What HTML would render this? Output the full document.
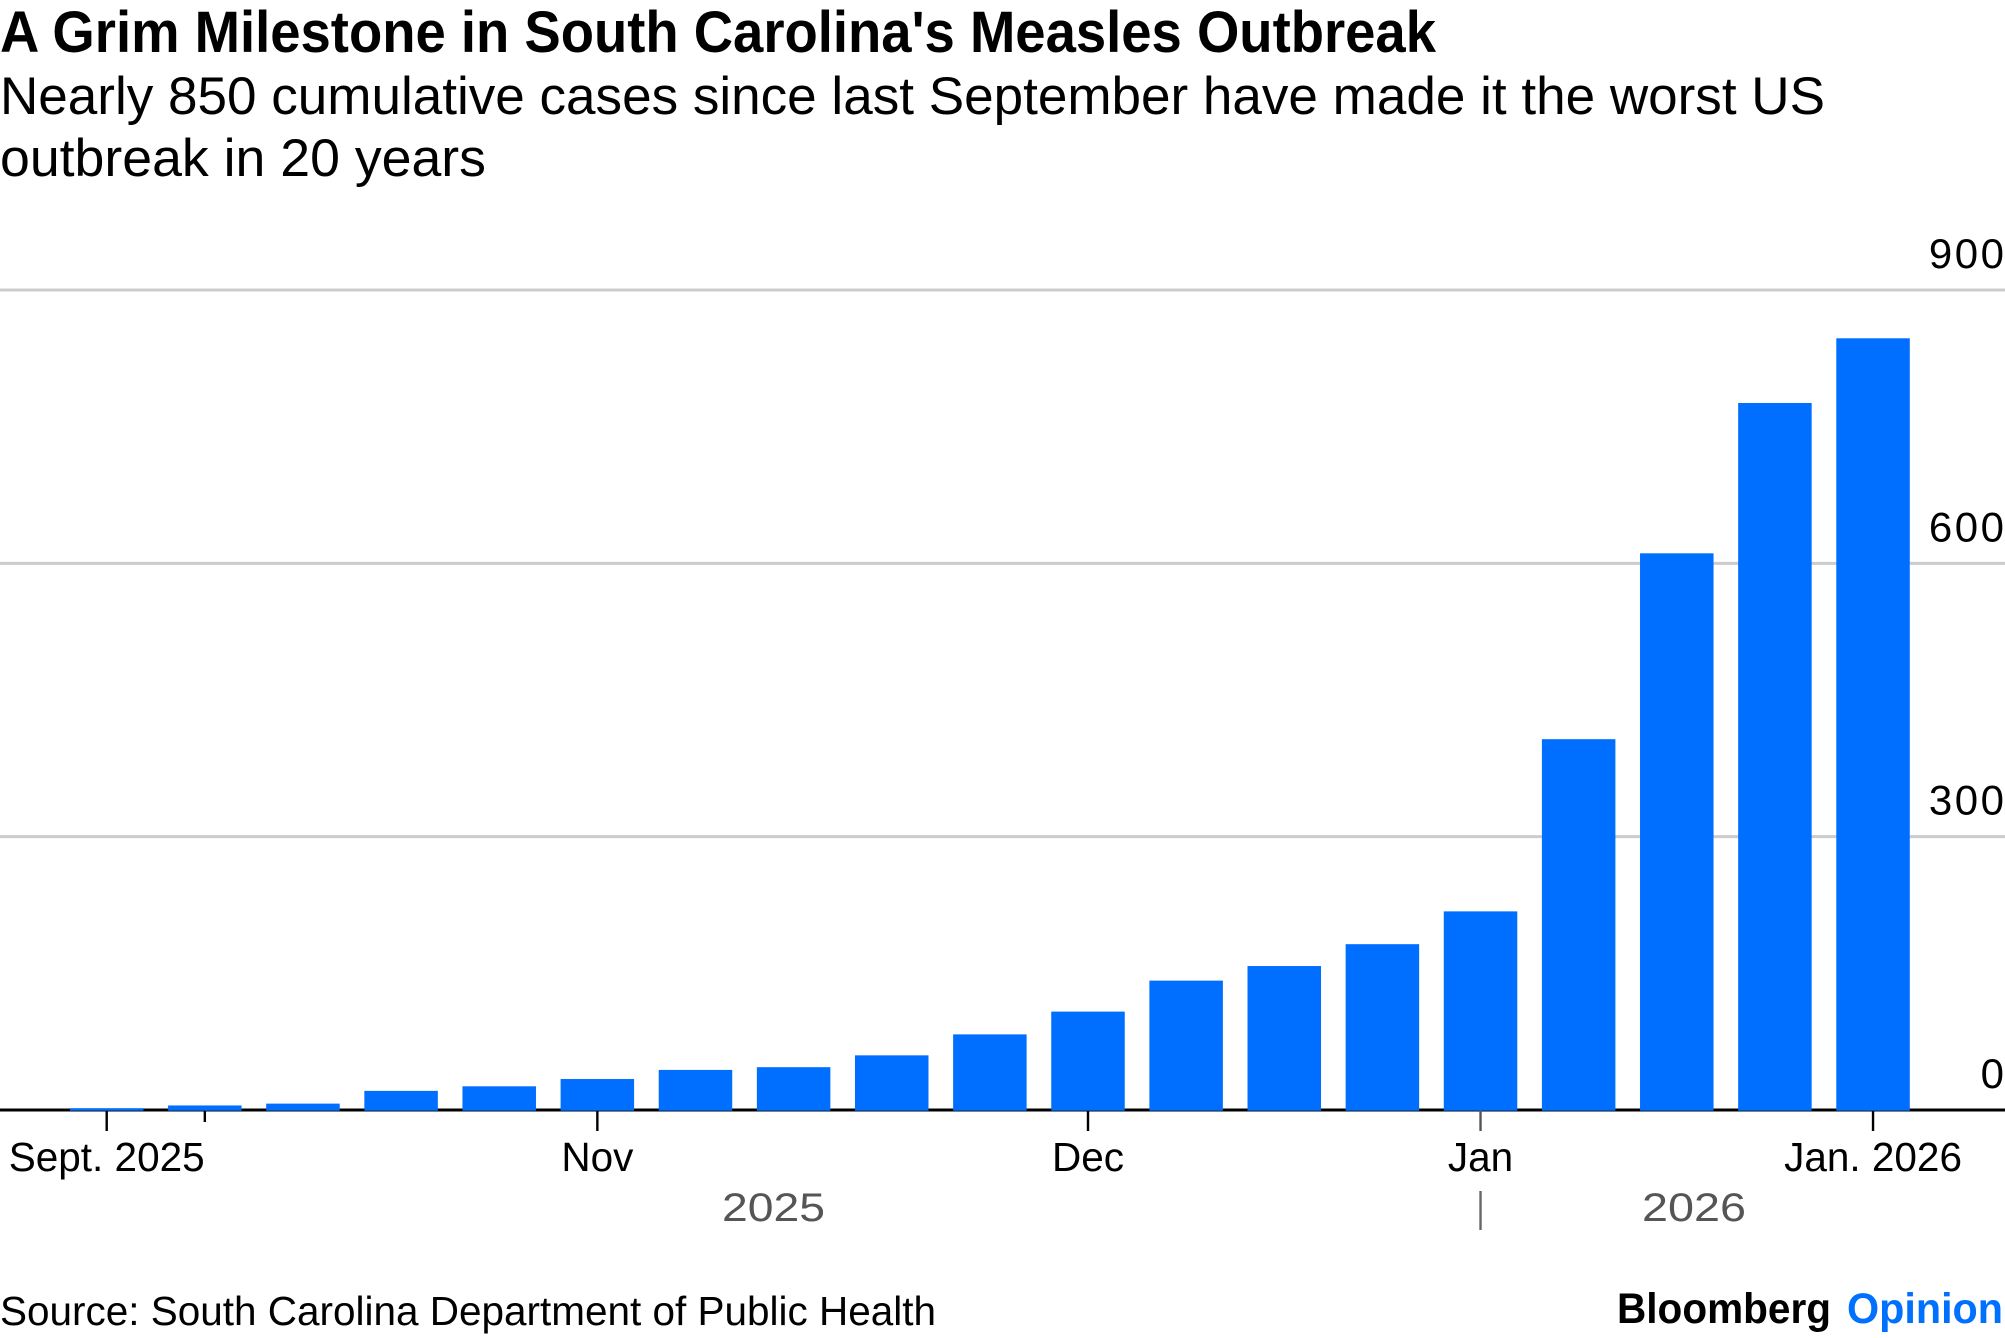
<!DOCTYPE html>
<html lang="en">
<head>
<meta charset="utf-8">
<title>A Grim Milestone in South Carolina's Measles Outbreak</title>
<style>
html,body{margin:0;padding:0;background:#fff;width:2005px;height:1338px;overflow:hidden}
svg{display:block;font-family:"Liberation Sans",Arial,sans-serif}
</style>
</head>
<body>
<svg id="chart" width="2005" height="1338" viewBox="0 0 2005 1338" xmlns="http://www.w3.org/2000/svg">
  <rect width="2005" height="1338" fill="#fff"/>
  <text x="0" y="52" font-size="58" font-weight="700" fill="#000" textLength="1436" lengthAdjust="spacingAndGlyphs">A Grim Milestone in South Carolina's Measles Outbreak</text>
  <text x="0" y="114" font-size="53" fill="#000" textLength="1825" lengthAdjust="spacingAndGlyphs">Nearly 850 cumulative cases since last September have made it the worst US</text>
  <text x="0" y="176" font-size="53" fill="#000" textLength="486" lengthAdjust="spacingAndGlyphs">outbreak in 20 years</text>
  <g id="grid"></g>
  <g id="yLabels"></g>
  <g id="xAxis"></g>
  <g id="bars"></g>
  <text x="722" y="1221" font-size="40" fill="#555" textLength="103" lengthAdjust="spacingAndGlyphs">2025</text>
  <text x="1642" y="1221" font-size="40" fill="#555" textLength="104" lengthAdjust="spacingAndGlyphs">2026</text>
  <text x="0" y="1325" font-size="41" fill="#000" textLength="936" lengthAdjust="spacingAndGlyphs">Source: South Carolina Department of Public Health</text>
  <text x="1617" y="1323" font-size="43" font-weight="700" fill="#000" textLength="214" lengthAdjust="spacingAndGlyphs">Bloomberg</text>
  <text x="1847" y="1323" font-size="43" font-weight="700" fill="#0070ff" textLength="156" lengthAdjust="spacingAndGlyphs">Opinion</text>
</svg>
<script>
const categories = ["wk01","wk02","wk03","wk04","wk05","wk06","wk07","wk08","wk09","wk10","wk11","wk12","wk13","wk14","wk15","wk16","wk17","wk18","wk19"];
const cases = [2,5,7,21,26,34,44,47,60,83,108,142,158,182,218,407,611,776,847];
const yTicks = [0,300,600,900];
const majorTickCategories = ["wk01","wk06","wk11","wk15","wk19"];
const majorTickLabels = ["Sept. 2025","Nov","Dec","Jan","Jan. 2026"];
const minorTickCategories = ["wk02"];
const yearBreakCategories = ["wk15"];

const NS = "http://www.w3.org/2000/svg";
const Y0 = 1110, PX_PER_UNIT = 820 / 900;
const X0 = 106.7, STEP = 98.13, BAR_W = 73.5;
function yScale(v){ return Y0 - v * PX_PER_UNIT; }
function xScale(cat){ return X0 + categories.indexOf(cat) * STEP; }
function make(tag, attrs, parent){
  const el = document.createElementNS(NS, tag);
  for (const k in attrs) el.setAttribute(k, attrs[k]);
  parent.appendChild(el);
  return el;
}
const grid = document.getElementById("grid");
const yLabels = document.getElementById("yLabels");
const xAxis = document.getElementById("xAxis");
const bars = document.getElementById("bars");

yTicks.forEach(function(t){
  const line = make("line", {x1:0, x2:2005, y1:yScale(t), y2:yScale(t), stroke:t === 0 ? "#000" : "#ccc", "stroke-width":3}, grid);
  
  
  const label = make("text", {x:2006.5, y:yScale(t) - 22, "font-size":42, "text-anchor":"end", "letter-spacing":2.5, fill:"#000"}, yLabels);
  label.textContent = String(t);
  
  
});

majorTickCategories.forEach(function(cat, i){
  const x = xScale(cat);
  const isBreak = yearBreakCategories.indexOf(cat) >= 0;
  const tick = make("line", {x1:x, x2:x, y1:Y0, y2:1131, stroke:isBreak ? "#555" : "#000", "stroke-width":2.4}, xAxis);
  
  
  const label = make("text", {x:x, y:1171, "font-size":40.5, "text-anchor":"middle", fill:"#000"}, xAxis);
  label.textContent = majorTickLabels[i];
  
  
});
minorTickCategories.forEach(function(cat){
  const x = xScale(cat);
  const tick = make("line", {x1:x, x2:x, y1:Y0, y2:1122, stroke:"#000", "stroke-width":2.4}, xAxis);
  
  
});
yearBreakCategories.forEach(function(cat){
  const x = xScale(cat);
  const sep = make("line", {x1:x, x2:x, y1:1191, y2:1230, stroke:"#666", "stroke-width":2.4}, xAxis);
  
  
});

categories.forEach(function(cat, i){
  const top = yScale(cases[i]);
  const bar = make("rect", {x:xScale(cat) - BAR_W / 2, y:top, width:BAR_W, height:Y0 - top + 0.7, fill:"#006fff"}, bars);
  
  
});
</script>
</body>
</html>
